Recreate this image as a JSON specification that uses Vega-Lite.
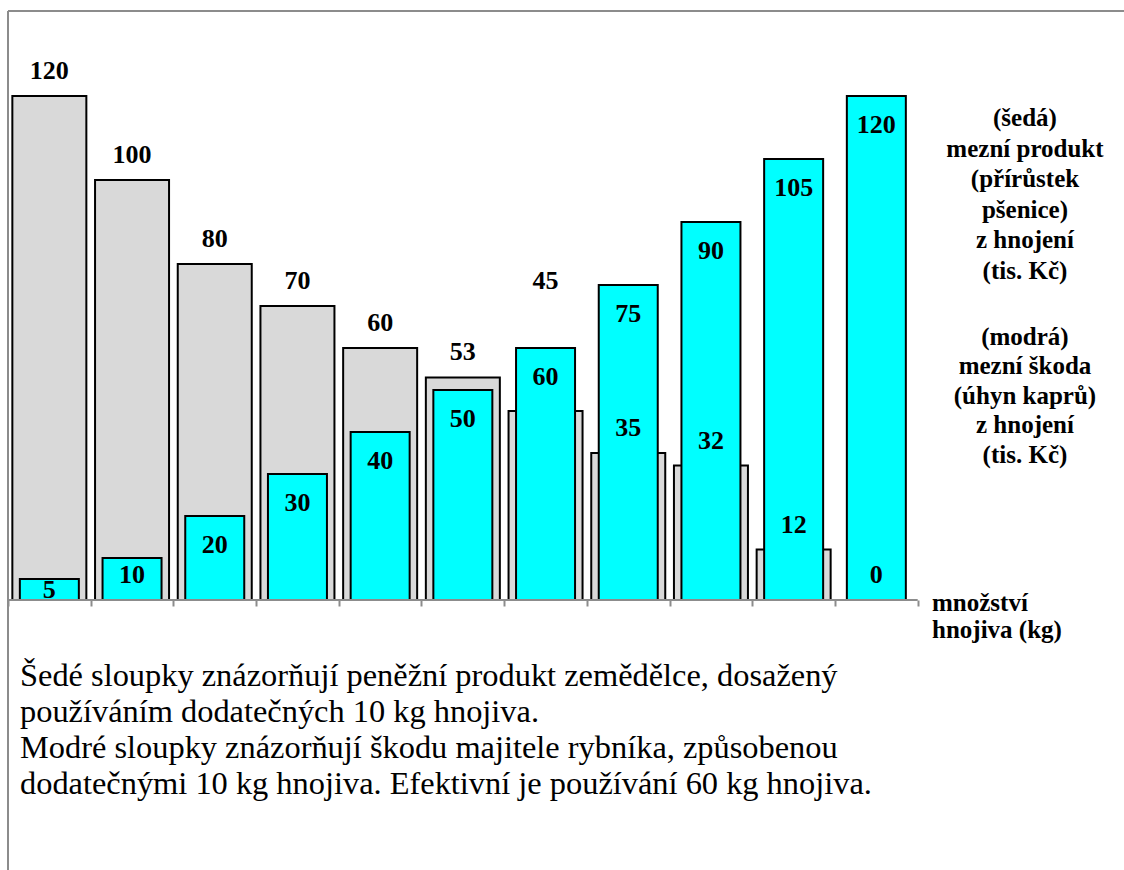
{
  "$schema": "https://vega.github.io/schema/vega-lite/v6.json",
  "width": 1116,
  "height": 859,
  "autosize": {"type": "none"},
  "padding": {"left": 8, "top": 11, "right": 0, "bottom": 0},
  "background": "white",
  "config": {"view": {"stroke": null}, "font": "Liberation Serif"},
  "data": {
    "values": [
      {"kg": 10, "produkt": 120, "skoda": 5},
      {"kg": 20, "produkt": 100, "skoda": 10},
      {"kg": 30, "produkt": 80, "skoda": 20},
      {"kg": 40, "produkt": 70, "skoda": 30},
      {"kg": 50, "produkt": 60, "skoda": 40},
      {"kg": 60, "produkt": 53, "skoda": 50},
      {"kg": 70, "produkt": 45, "skoda": 60},
      {"kg": 80, "produkt": 35, "skoda": 75},
      {"kg": 90, "produkt": 32, "skoda": 90},
      {"kg": 100, "produkt": 12, "skoda": 105},
      {"kg": 110, "produkt": 0, "skoda": 120}
    ]
  },
  "layer": [
    {
      "mark": {"type": "bar", "width": 74, "fill": "#d9d9d9", "stroke": "black", "strokeWidth": 2},
      "encoding": {
        "x": {
          "field": "kg", "type": "quantitative",
          "scale": {"domain": [5, 139.946], "nice": false, "zero": false, "padding": 0},
          "axis": {"orient": "bottom", "offset": -270, "values": [5, 15, 25, 35, 45, 55, 65, 75, 85, 95, 105, 115],
                   "labels": false, "domain": false, "grid": false, "ticks": true, "tickSize": 6,
                   "tickColor": "#8c8c8c", "tickWidth": 2, "title": null}
        },
        "y": {
          "field": "produkt", "type": "quantitative",
          "scale": {"domain": [-64.286, 140.238], "nice": false, "zero": false, "padding": 0},
          "axis": null
        },
        "y2": {"datum": 0}
      }
    },
    {
      "mark": {"type": "bar", "width": 59, "fill": "#00ffff", "stroke": "black", "strokeWidth": 2},
      "encoding": {
        "x": {"field": "kg", "type": "quantitative"},
        "y": {"field": "skoda", "type": "quantitative"},
        "y2": {"datum": 0}
      }
    },
    {
      "data": {"values": [{}]},
      "mark": {"type": "rule", "stroke": "#8c8c8c", "strokeWidth": 2},
      "encoding": {"x": {"datum": 5}, "x2": {"datum": 115}, "y": {"datum": 0}}
    },
    {
      "data": {"values": [{}]},
      "mark": {"type": "rule", "stroke": "#8c8c8c", "strokeWidth": 2},
      "encoding": {"y": {"datum": 140.238}}
    },
    {
      "data": {"values": [{}]},
      "mark": {"type": "rule", "stroke": "#8c8c8c", "strokeWidth": 2},
      "encoding": {"x": {"datum": 5}}
    },
    {
      "transform": [{"filter": "datum.produkt != 45"}],
      "mark": {"type": "text", "fontSize": 26, "fontWeight": "bold", "baseline": "middle", "dy": -25, "color": "black"},
      "encoding": {
        "x": {"field": "kg", "type": "quantitative"},
        "y": {"field": "produkt", "type": "quantitative"},
        "text": {"field": "produkt"}
      }
    },
    {
      "transform": [{"filter": "datum.produkt == 45"}],
      "mark": {"type": "text", "fontSize": 26, "fontWeight": "bold", "baseline": "middle", "dy": -130, "color": "black"},
      "encoding": {
        "x": {"field": "kg", "type": "quantitative"},
        "y": {"field": "produkt", "type": "quantitative"},
        "text": {"field": "produkt"}
      }
    },
    {
      "transform": [{"filter": "datum.skoda >= 20"}],
      "mark": {"type": "text", "fontSize": 26, "fontWeight": "bold", "baseline": "middle", "dy": 29, "color": "black"},
      "encoding": {
        "x": {"field": "kg", "type": "quantitative"},
        "y": {"field": "skoda", "type": "quantitative"},
        "text": {"field": "skoda"}
      }
    },
    {
      "transform": [{"filter": "datum.skoda == 10"}],
      "mark": {"type": "text", "fontSize": 26, "fontWeight": "bold", "baseline": "middle", "dy": 17, "color": "black"},
      "encoding": {
        "x": {"field": "kg", "type": "quantitative"},
        "y": {"field": "skoda", "type": "quantitative"},
        "text": {"field": "skoda"}
      }
    },
    {
      "transform": [{"filter": "datum.skoda == 5"}],
      "mark": {"type": "text", "fontSize": 26, "fontWeight": "bold", "baseline": "middle", "dy": 11, "color": "black"},
      "encoding": {
        "x": {"field": "kg", "type": "quantitative"},
        "y": {"field": "skoda", "type": "quantitative"},
        "text": {"field": "skoda"}
      }
    },
    {
      "data": {"values": [{}]},
      "mark": {"type": "text", "fontSize": 25, "fontWeight": "bold", "align": "center", "baseline": "middle", "lineHeight": 30.6, "color": "black"},
      "encoding": {
        "x": {"datum": 127.97},
        "y": {"datum": 114.76},
        "text": {"value": ["(šedá)", "mezní produkt", "(přírůstek", "pšenice)", "z hnojení", "(tis. Kč)"]}
      }
    },
    {
      "data": {"values": [{}]},
      "mark": {"type": "text", "fontSize": 25, "fontWeight": "bold", "align": "center", "baseline": "middle", "lineHeight": 29.5, "color": "black"},
      "encoding": {
        "x": {"datum": 127.97},
        "y": {"datum": 62.62},
        "text": {"value": ["(modrá)", "mezní škoda", "(úhyn kaprů)", "z hnojení", "(tis. Kč)"]}
      }
    },
    {
      "data": {"values": [{}]},
      "mark": {"type": "text", "fontSize": 25, "fontWeight": "bold", "align": "left", "baseline": "middle", "lineHeight": 27, "color": "black"},
      "encoding": {
        "x": {"datum": 116.73},
        "y": {"datum": -0.71},
        "text": {"value": ["množství", "hnojiva (kg)"]}
      }
    },
    {
      "data": {"values": [{}]},
      "mark": {"type": "text", "fontSize": 32.4, "align": "left", "baseline": "middle", "lineHeight": 36, "color": "black"},
      "encoding": {
        "x": {"datum": 6.45},
        "y": {"datum": -18.1},
        "text": {"value": ["Šedé sloupky znázorňují peněžní produkt zemědělce, dosažený", "používáním dodatečných 10 kg hnojiva.", "Modré sloupky znázorňují škodu majitele rybníka, způsobenou", "dodatečnými 10 kg hnojiva. Efektivní je používání 60 kg hnojiva."]}
      }
    }
  ]
}
